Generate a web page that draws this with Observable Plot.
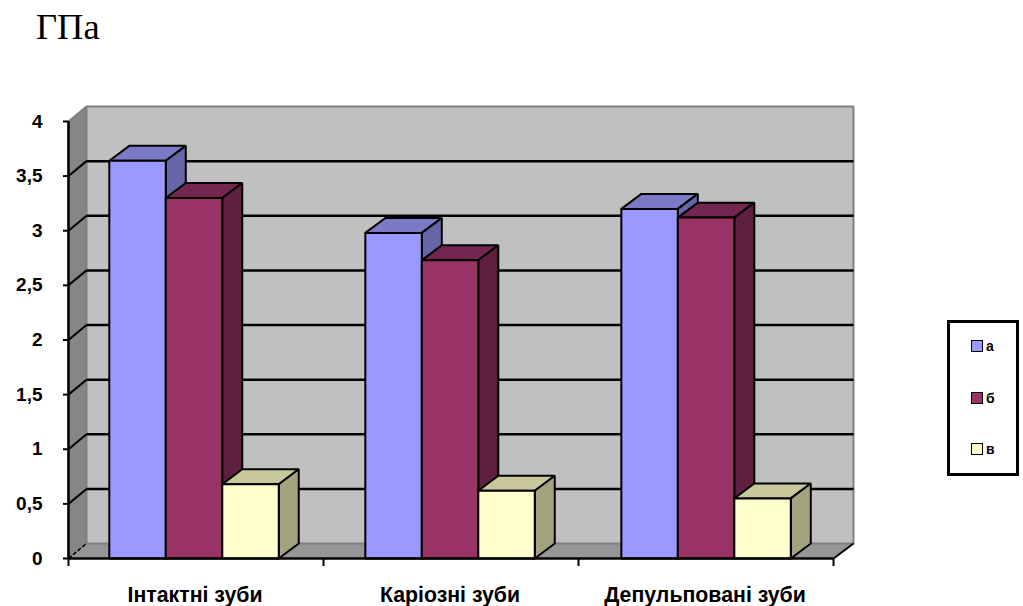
<!DOCTYPE html>
<html><head><meta charset="utf-8">
<script src="https://cdn.jsdelivr.net/npm/d3@7"></script>
<script src="https://cdn.jsdelivr.net/npm/@observablehq/plot@0.6"></script>
<style>
html,body{margin:0;padding:0;background:#fff;overflow:hidden}
#page{position:relative;width:1023px;height:606px}
#title{height:60px;box-sizing:border-box;padding:7px 0 0 36px;font:36.5px/40px "Liberation Serif",serif;color:#000}
#chart svg{display:block}
#legend{position:absolute;left:947px;top:320px;width:72px;height:156px;box-sizing:border-box;border:3px solid #000;background:#fff;font:bold 14px "Liberation Sans",sans-serif}
#legend .row{position:absolute;left:21px;display:flex;align-items:center;gap:3px;height:14px}
#legend i{display:block;width:10px;height:10px;border:1px solid #000}
</style></head><body>
<div id="page">
<div id="title">ГПа</div>
<div id="chart"></div>
<div id="legend"></div>
</div>
<script>
const categories = ["Інтактні зуби", "Каріозні зуби", "Депульповані зуби"];
const seriesNames = ["а", "б", "в"];
const valuesA = [3.64, 2.98, 3.2];
const valuesB = [3.3, 2.73, 3.12];
const valuesC = [0.68, 0.62, 0.55];
const yTicks = [0, 0.5, 1, 1.5, 2, 2.5, 3, 3.5, 4];
const frontColors = ["#9999ff", "#993366", "#ffffcc"];
const topColors = ["#7a7ac6", "#732650", "#c8c89c"];
const sideColors = ["#6666a8", "#5f2040", "#a3a37f"];

const allValues = [valuesA, valuesB, valuesC];
const depthX = 0.0784, depthY = 0.137;
const wallLeft = 0.0706;
const barStart = 0.16, barWidth = 0.2215, groupStep = 1.004;

const polys = [];
function poly(fill, pts, stroke = "#000", sw = 2){
  const id = polys.length ? polys[polys.length-1].id + 1 : 0;
  [...pts, pts[0]].forEach(p => polys.push({id, x:p[0], y:p[1], fill, stroke, sw}));
}
poly("#868686", [[0,0],[wallLeft,depthY],[wallLeft,4+depthY],[0,4]], "#808080", 2);
poly("#969696", [[0,0],[3,0],[3+depthX,depthY],[wallLeft,depthY]], "#808080", 1);
poly("#c0c0c0", [[wallLeft,depthY],[3+depthX,depthY],[3+depthX,4+depthY],[wallLeft,4+depthY]], "#808080", 2);
const wallPolys = polys.splice(0);

categories.forEach((c, g) => {
  allValues.forEach((vals, s) => {
    const x0 = g * groupStep + barStart + s * barWidth, x1 = x0 + barWidth, v = vals[g];
    poly(topColors[s], [[x0,v],[x1,v],[x1+depthX,v+depthY],[x0+depthX,v+depthY]]);
    poly(sideColors[s], [[x1,0],[x1+depthX,depthY],[x1+depthX,v+depthY],[x1,v]]);
    poly(frontColors[s], [[x0,0],[x1,0],[x1,v],[x0,v]]);
  });
});

const grid = yTicks.filter(t => t > 0 && t < 4);
const polyMark = data => Plot.line(data, {x:"x", y:"y", z:"id", fill:"fill", stroke:"stroke", strokeWidth:"sw", strokeLinejoin:"miter"});

const chart = Plot.plot({
  width: 1023, height: 546,
  marginLeft: 68, marginRight: 170, marginTop: 46, marginBottom: 48,
  x: {domain: [0, 3 + depthX], axis: null},
  y: {domain: [0, 4 + depthY], axis: null},
  color: {type: "identity"},
  style: {background: "transparent", fontFamily: "'Liberation Sans',sans-serif", color: "#000"},
  marks: [
    polyMark(wallPolys),
    Plot.link(grid, {x1: 0, y1: d => d, x2: wallLeft, y2: d => d + depthY, stroke: "#000", strokeWidth: 2}),
    Plot.link(grid, {x1: wallLeft, y1: d => d + depthY, x2: 3 + depthX, y2: d => d + depthY, stroke: "#000", strokeWidth: 2.5}),
    Plot.link([0], {x1: 0, y1: 0, x2: wallLeft, y2: depthY, stroke: "#000", strokeWidth: 1.5, strokeDasharray: "4,2"}),
    polyMark(polys),
    Plot.ruleX([0], {y1: 0, y2: 4, stroke: "#000", strokeWidth: 2.5}),
    Plot.ruleY([0], {x1: 0, x2: 3, stroke: "#000", strokeWidth: 2.5}),
    Plot.link([0], {x1: 3, y1: 0, x2: 3 + depthX, y2: depthY, stroke: "#000", strokeWidth: 2}),
    Plot.axisY({ticks: yTicks, anchor: "left", tickSize: 5, tickPadding: 21, strokeWidth: 2, label: null,
      tickFormat: d => String(d).replace(".", ","), fontSize: 19, fontWeight: "bold"}),
    Plot.axisX({ticks: [0,1,2,3], anchor: "bottom", tickSize: 8, strokeWidth: 2, tickFormat: () => "", label: null}),
    Plot.axisX({ticks: [0.5,1.5,2.5], anchor: "bottom", tickSize: 0, tickPadding: 28, label: null, dx: -1,
      tickFormat: d => categories[Math.floor(d)], fontSize: 21.3, fontWeight: "bold"})
  ]
});
document.getElementById("chart").append(chart);

const legend = document.getElementById("legend");
seriesNames.forEach((n, i) => {
  const r = document.createElement("div");
  r.className = "row";
  r.style.top = (16 + i * 51.5) + "px";
  const sw = document.createElement("i");
  sw.style.background = frontColors[i];
  r.append(sw, n);
  legend.append(r);
});
</script>
</body></html>
